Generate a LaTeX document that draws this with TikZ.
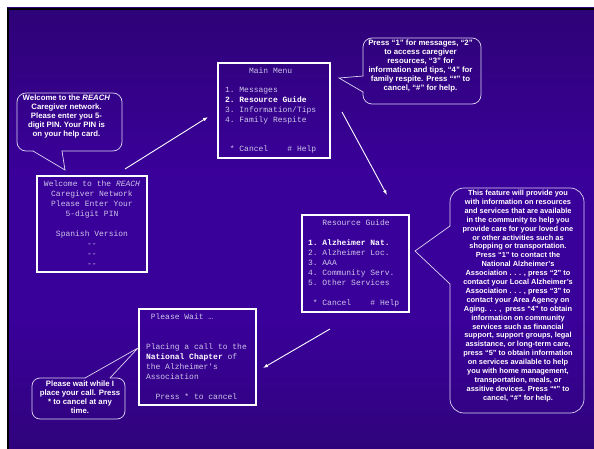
\documentclass[tikz,border=0pt]{standalone}
\usepackage{fontspec}
\setmainfont{Liberation Sans}
\setmonofont{Liberation Mono}
\usepackage{tikz}
\usetikzlibrary{calc,arrows.meta}
\setlength{\parindent}{0pt}
\definecolor{slidetop}{RGB}{30,6,72}
\definecolor{slidemid}{RGB}{58,0,154}
\definecolor{slidebot}{RGB}{30,8,76}
\definecolor{screentext}{RGB}{204,198,232}
\definecolor{tipborder}{RGB}{222,216,245}
\pgfdeclareverticalshading{slide}{100bp}{color(0bp)=(slidebot); color(40bp)=(slidemid);
  color(56bp)=(slidemid); color(100bp)=(slidetop)}
\tikzset{
  screen/.style={draw=white, line width=1.1pt, text=screentext, align=flush left,
    font=\ttfamily\fontsize{8}{10}\selectfont, inner ysep=0pt, outer sep=0pt},
  tipshape/.style={inner sep=0pt, outer sep=0pt},
  tiptext/.style={text=white, align=center, inner sep=0pt, anchor=north,
    font=\bfseries\fontsize{7.8}{9}\selectfont},
  tipline/.style={draw=tipborder, line width=0.7pt, line cap=round, rounded corners=9pt},
  tippoint/.style={draw=tipborder, line width=0.7pt, line cap=round},
  arr/.style={-{Latex[length=5pt,width=3.6pt]}, draw=white, line width=0.9pt}
}
\newcommand{\hilite}[1]{\textcolor{white}{\bfseries #1}}

\begin{document}
\begin{tikzpicture}[x=1pt, y=-1pt]
  \useasboundingbox (0,0) rectangle (594,449);
  \fill[white] (0,0) rectangle (594,449);
  \shade[shading=slide] (7,8) rectangle (594,449);
  \draw[black, line width=2.5pt] (8.2,449) -- (8.2,9.2) -- (594,9.2);

  % phone screens
  \node[screen, align=flush center, text width=100pt, inner xsep=5pt, minimum height=96pt] (welcome) at (92,224)
    {Welcome to the \textit{REACH}\\ Caregiver Network\\ Please Enter Your\\ 5-digit PIN\\ ~\\ Spanish Version\\ -{}-\\ -{}-\\ -{}-};
  \node[screen, font=\ttfamily\fontsize{8}{9.8}\selectfont, text width=98pt, inner xsep=7pt, minimum height=95pt] (mainmenu) at (274,110.5)
    {\phantom{xxxxx}Main Menu\\ ~\\ 1. Messages\\ \hilite{2. Resource Guide}\\ 3. Information/Tips\\ 4. Family Respite\\ ~\\ ~\\ \phantom{x}* Cancel\ \ \ \ \# Help};
  \node[screen, text width=95pt, inner xsep=6pt, minimum height=97pt] (resguide) at (355.5,263.5)
    {\phantom{xxx}Resource Guide\\ ~\\ \hilite{1. Alzheimer Nat.}\\ 2. Alzheimer Loc.\\ 3. AAA\\ 4. Community Serv.\\ 5. Other Services\\ ~\\ \phantom{x}* Cancel\ \ \ \ \# Help};
  \node[screen, text width=103pt, inner xsep=7pt, minimum height=96pt] (pleasewait) at (197.5,357)
    {\phantom{x}Please Wait …\\ ~\\ ~\\ Placing a call to the\\ \hilite{National Chapter} of\\ the Alzheimer's\\ Association\\ ~\\ \phantom{xx}Press * to cancel};

  % callouts
  \node[tipshape, minimum width=105pt, minimum height=58pt] (tipwelcome) at (69.5,122) {};
  \node[tiptext] (welcometext) at ([shift={(-3,2)}]tipwelcome.north)
    {Welcome to the \textit{REACH}\\ Caregiver network.\\ Please enter you 5-\\ digit PIN. Your PIN is\\ on your help card.};
  \coordinate (welcomepoint) at (65,170);
  \draw[tipline] ([shift={(-36.5,0)}]tipwelcome.south) -- (tipwelcome.south west) -- (tipwelcome.north west)
    -- (tipwelcome.north east) -- (tipwelcome.south east) -- ([shift={(-7.5,0)}]tipwelcome.south);
  \draw[tippoint] ([shift={(-7.5,0)}]tipwelcome.south) -- (welcomepoint) -- ([shift={(-36.5,0)}]tipwelcome.south);

  \node[tipshape, minimum width=118pt, minimum height=66pt] (tipmenu) at (422,71) {};
  \node[tiptext] (menutext) at ([shift={(-1.5,2)}]tipmenu.north)
    {Press “1” for messages, “2”\\ to access caregiver\\ resources, “3” for\\ information and tips, “4” for\\ family respite. Press “*” to\\ cancel, “\#” for help.};
  \coordinate (menupoint) at (339,78);
  \draw[tipline] ([shift={(0,21)}]tipmenu.west) -- (tipmenu.south west) -- (tipmenu.south east)
    -- (tipmenu.north east) -- (tipmenu.north west) -- ([shift={(0,5)}]tipmenu.west);
  \draw[tippoint] ([shift={(0,5)}]tipmenu.west) -- (menupoint) -- ([shift={(0,21)}]tipmenu.west);

  \node[tipshape, minimum width=134pt, minimum height=225pt] (tipres) at (517,300.5) {};
  \node[tiptext, font=\bfseries\fontsize{7.4}{8.9}\selectfont] (restext) at ([shift={(1,2)}]tipres.north)
    {This feature will provide you\\ with information on resources\\ and services that are available\\ in the community to help you\\
     provide care for your loved one\\ or other activities such as\\ shopping or transportation.\\ Press “1” to contact the\\
     National Alzheimer’s\\ Association . . . , press “2” to\\ contact your Local Alzheimer’s\\ Association . . . , press “3” to\\
     contact your Area Agency on\\ Aging. . . ,\ \ press “4” to obtain\\ information on community\\ services such as financial\\
     support, support groups, legal\\ assistance, or long-term care,\\ press “5” to obtain information\\ on services available to help\\
     you with home management,\\ transportation, meals, or\\ assitive devices. Press “*” to\\ cancel, “\#” for help.};
  \coordinate (respoint) at (415,251);
  \draw[tipline, rounded corners=14pt] ([shift={(0,-74.5)}]tipres.west) -- (tipres.north west) -- (tipres.north east)
    -- (tipres.south east) -- (tipres.south west) -- ([shift={(0,-16.5)}]tipres.west);
  \draw[tippoint] ([shift={(0,-16.5)}]tipres.west) -- (respoint) -- ([shift={(0,-74.5)}]tipres.west);

  \node[tipshape, minimum width=93pt, minimum height=41pt] (tipwait) at (78.5,398.5) {};
  \node[tiptext] (waittext) at ([shift={(1.5,3)}]tipwait.north)
    {Please wait while I\\ place your call. Press\\ * to cancel at any\\ time.};
  \coordinate (waitpoint) at (138,348);
  \draw[tipline, rounded corners=8pt] ([shift={(31.5,0)}]tipwait.north) -- (tipwait.north east) -- (tipwait.south east)
    -- (tipwait.south west) -- (tipwait.north west) -- ([shift={(6.5,0)}]tipwait.north);
  \draw[tippoint] ([shift={(6.5,0)}]tipwait.north) -- (waitpoint) -- ([shift={(31.5,0)}]tipwait.north);

  % flow between screens
  \draw[arr] ([shift={(33,-7)}]welcome.north) -- ([shift={(-10,6.5)}]mainmenu.west);
  \draw[arr] ([shift={(12,1.5)}]mainmenu.east) -- ([shift={(31.5,-20)}]resguide.north);
  \draw[arr] ([shift={(-25.5,17)}]resguide.south) -- ([shift={(7,11)}]pleasewait.east);
\end{tikzpicture}
\end{document}
